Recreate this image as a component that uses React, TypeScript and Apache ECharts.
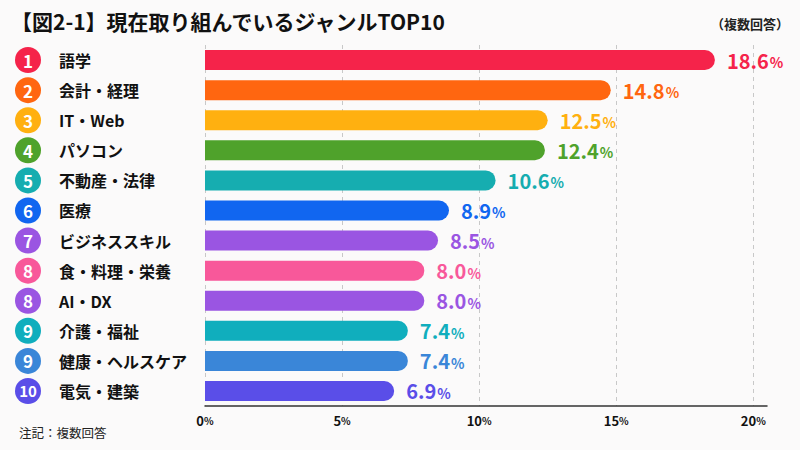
import React, { useEffect, useRef } from "react";
import * as echarts from "echarts";

const categories = ["語学", "会計・経理", "IT・Web", "パソコン", "不動産・法律", "医療", "ビジネススキル", "食・料理・栄養", "AI・DX", "介護・福祉", "健康・ヘルスケア", "電気・建築"];
const ranks = ["1", "2", "3", "4", "5", "6", "7", "8", "8", "9", "9", "10"];
const values = [18.6, 14.8, 12.5, 12.4, 10.6, 8.9, 8.5, 8.0, 8.0, 7.4, 7.4, 6.9];
const colors = ["#f5234a", "#ff6610", "#ffb010", "#4fa22b", "#16adb0", "#1166f0", "#9a55e2", "#f8589a", "#9a55e2", "#10aebd", "#3a86d8", "#5a4ee8"];
const xTicks = [0, 5, 10, 15, 20];

const FONT = "'Noto Sans CJK JP', 'Noto Sans', sans-serif";

export default function App() {
  const ref = useRef<HTMLDivElement>(null);
  useEffect(() => {
    const chart = echarts.init(ref.current!, undefined, { renderer: "svg" });
    const rich: any = {
      t: { fontSize: 16, fontWeight: "bold", color: "#111", fontFamily: FONT, padding: [0, 0, 0, 18] },
    };
    colors.forEach((c, i) => {
      rich["b" + i] = {
        width: 26,
        height: 26,
        lineHeight: 26,
        borderRadius: 13,
        backgroundColor: c,
        color: "#fff",
        align: "center",
        fontSize: ranks[i].length > 1 ? 15 : 17,
        fontWeight: "bold",
        fontFamily: FONT,
      };
    });
    const option: any = {
      animation: false,
      backgroundColor: "#fbfafa",
      textStyle: { fontFamily: FONT },
      title: [
        {
          text: "【図2-1】現在取り組んでいるジャンルTOP10",
          left: 6,
          top: 5,
          textStyle: { fontSize: 21, fontWeight: "bold", color: "#111", fontFamily: FONT },
        },
        {
          text: "（複数回答）",
          right: 6,
          top: 12,
          textStyle: { fontSize: 13, fontWeight: "bold", color: "#222", fontFamily: FONT },
        },
        {
          text: "注記：複数回答",
          left: 14,
          bottom: 6,
          textStyle: { fontSize: 12.5, fontWeight: "normal", color: "#222", fontFamily: FONT },
        },
      ],
      grid: { left: 205, right: 33, top: 45, bottom: 44, containLabel: false },
      xAxis: {
        type: "value",
        min: 0,
        max: 20.5,
        interval: 5,
        axisLine: { show: true, lineStyle: { color: "#333", width: 1.5 } },
        axisTick: { show: false },
        splitLine: { show: true, showMaxLine: false, lineStyle: { type: [4, 4], color: "#c8c8c8", width: 1 } },
        axisLabel: {
          margin: 8,
          showMaxLabel: false,
          formatter: (v: number) => (xTicks.includes(v) ? `{n|${v}}{p|%}` : ""),
          rich: {
            n: { fontSize: 13, fontWeight: "bold", color: "#111", fontFamily: FONT },
            p: { fontSize: 10, fontWeight: "bold", color: "#111", fontFamily: FONT },
          },
        },
      },
      yAxis: {
        type: "category",
        inverse: true,
        data: categories,
        axisLine: { show: false },
        axisTick: { show: false },
        axisLabel: {
          align: "left",
          margin: 190,
          formatter: (v: string, i: number) => `{b${i}|${ranks[i]}}{t|${v}}`,
          rich,
        },
      },
      series: [
        {
          type: "bar",
          barWidth: 20,
          data: values.map((v, i) => ({
            value: v,
            itemStyle: { color: colors[i], borderRadius: [0, 10, 10, 0] },
            label: {
              show: true,
              position: "right",
              distance: 12,
              formatter: () => `{n${i}|${v.toFixed(1)}}{p${i}|%}`,
              rich: {
                ["n" + i]: { fontSize: 20, fontWeight: "bold", color: colors[i], fontFamily: FONT },
                ["p" + i]: { fontSize: 14, fontWeight: "bold", color: colors[i], fontFamily: FONT, padding: [4, 0, 0, 1] },
              },
            },
          })),
        },
      ],
    };
    chart.setOption(option);
    return () => chart.dispose();
  }, []);
  return <div ref={ref} style={{ width: 800, height: 450, position: "absolute", left: 0, top: 0 }} />;
}
